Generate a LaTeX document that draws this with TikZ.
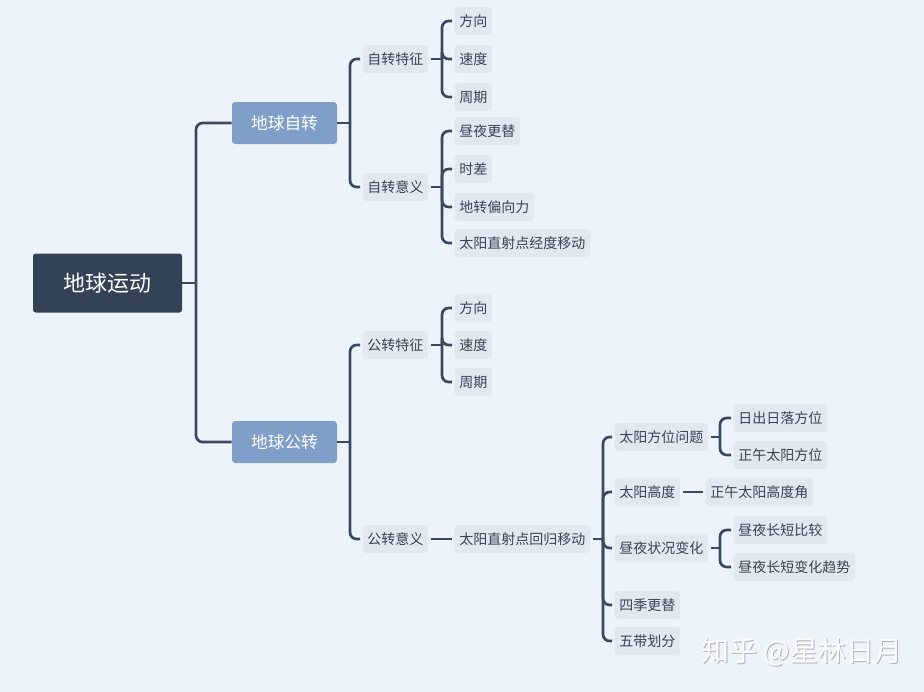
\documentclass[tikz,border=0pt]{standalone}
\usepackage{fontspec}
\setmainfont{Noto Sans CJK SC}
\usetikzlibrary{positioning,calc}
\definecolor{bgblue}{HTML}{EDF3FA}
\definecolor{rootfill}{HTML}{344258}
\definecolor{mainfill}{HTML}{7F9FC9}
\definecolor{leaffill}{HTML}{E2E8F0}
\definecolor{linkcol}{HTML}{3B4960}
\definecolor{leaftext}{HTML}{3A4352}

\begin{document}
\begin{tikzpicture}[
    x=0.75pt, y=-0.75pt,
    root/.style={fill=rootfill, text=white, rounded corners=2pt, minimum width=111.75pt, minimum height=44.25pt, font=\fontsize{16.5}{18}\selectfont},
    topic/.style={fill=mainfill, text=white, rounded corners=2.5pt, minimum width=78.75pt, minimum height=31.5pt, font=\fontsize{12.5}{14}\selectfont},
    leaf/.style={fill=leaffill, text=leaftext, rounded corners=2.5pt, anchor=west, minimum height=21pt, inner xsep=3.5pt, outer sep=2pt, font=\fontsize{10.5}{12}\selectfont},
    link/.style={draw=linkcol, line width=2pt, rounded corners=5pt},
    wmark/.style={anchor=west, font=\fontsize{21}{24}\selectfont}
  ]
  \fill[bgblue] (0,0) rectangle (924,692);

  \node[root] (earth) at (107.5,283) {地球运动};
  \node[topic] (rot) at (284.5,123) {地球自转};
  \node[topic] (rev) at (284.5,442) {地球公转};

  \node[leaf] (rotfeat) at (360,59) {自转特征};
  \node[leaf] (rotmean) at (360,187) {自转意义};
  \node[leaf] (revfeat) at (360,345) {公转特征};
  \node[leaf] (revmean) at (360,539) {公转意义};

  \node[leaf] (rdir) at (452,21) {方向};
  \node[leaf] (rspeed) at (452,59) {速度};
  \node[leaf] (rperiod) at (452,97) {周期};
  \node[leaf] (daynight) at (452,131) {昼夜更替};
  \node[leaf] (timediff) at (452,169) {时差};
  \node[leaf] (coriolis) at (452,207) {地转偏向力};
  \node[leaf] (lonmove) at (452,243) {太阳直射点经度移动};
  \node[leaf] (vdir) at (452,308) {方向};
  \node[leaf] (vspeed) at (452,345) {速度};
  \node[leaf] (vperiod) at (452,382) {周期};
  \node[leaf] (latmove) at (452,539) {太阳直射点回归移动};

  \node[leaf] (sunaz) at (612,437) {太阳方位问题};
  \node[leaf] (sunalt) at (612,492) {太阳高度};
  \node[leaf] (dnchange) at (612,548) {昼夜状况变化};
  \node[leaf] (seasons) at (612,605) {四季更替};
  \node[leaf] (zones) at (612,641) {五带划分};

  \node[leaf] (riseset) at (731,418) {日出日落方位};
  \node[leaf] (noonaz) at (731,455) {正午太阳方位};
  \node[leaf] (noonalt) at (703,492) {正午太阳高度角};
  \node[leaf] (dncomp) at (731,530) {昼夜长短比较};
  \node[leaf] (dntrend) at (731,567) {昼夜长短变化趋势};

  % watermark
  \node[wmark, text=black!30] (markshade) at (698,653) {知乎 @星林日月};
  \node[wmark, text=white] (markfront) at (697,652) {知乎 @星林日月};

  % brackets
  \coordinate (earth-j) at (196,283);
  \coordinate (rot-j) at (350,123);
  \coordinate (rev-j) at (350,442);
  \coordinate (rotfeat-j) at (442,59);
  \coordinate (rotmean-j) at (442,187);
  \coordinate (revfeat-j) at (442,345);
  \coordinate (latmove-j) at (603,539);
  \coordinate (sunaz-j) at (720,437);
  \coordinate (dnchange-j) at (720,548);

  \draw[link] (earth.east) -- (earth-j);
  \foreach \c in {rot,rev} \draw[link] (earth-j) |- (\c.west);
  \draw[link] (rot.east) -- (rot-j);
  \foreach \c in {rotfeat,rotmean} \draw[link] (rot-j) |- (\c.west);
  \draw[link] (rev.east) -- (rev-j);
  \foreach \c in {revfeat,revmean} \draw[link] (rev-j) |- (\c.west);

  \draw[link] (rotfeat.east) -- (rotfeat-j);
  \foreach \c in {rdir,rspeed,rperiod} \draw[link] (rotfeat-j) |- (\c.west);
  \draw[link] (rotmean.east) -- (rotmean-j);
  \foreach \c in {daynight,timediff,coriolis,lonmove} \draw[link] (rotmean-j) |- (\c.west);
  \draw[link] (revfeat.east) -- (revfeat-j);
  \foreach \c in {vdir,vspeed,vperiod} \draw[link] (revfeat-j) |- (\c.west);
  \draw[link] (revmean) -- (latmove);

  \draw[link] (latmove.east) -- (latmove-j);
  \foreach \c in {sunaz,sunalt,dnchange,seasons,zones} \draw[link] (latmove-j) |- (\c.west);
  \draw[link] (sunaz.east) -- (sunaz-j);
  \foreach \c in {riseset,noonaz} \draw[link] (sunaz-j) |- (\c.west);
  \draw[link] (sunalt) -- (noonalt);
  \draw[link] (dnchange.east) -- (dnchange-j);
  \foreach \c in {dncomp,dntrend} \draw[link] (dnchange-j) |- (\c.west);
\end{tikzpicture}
\end{document}
